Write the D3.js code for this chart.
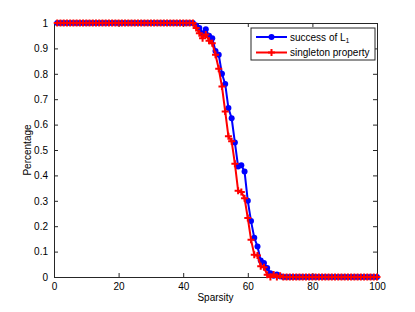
<!DOCTYPE html>
<html>
<head>
<meta charset="utf-8">
<script src="https://cdn.jsdelivr.net/npm/d3@7/dist/d3.min.js"></script>
<style>
  html, body { margin: 0; padding: 0; background: #fff; }
  svg { display: block; font-family: "Liberation Sans", Arial, Helvetica, sans-serif; }
</style>
</head>
<body>
<svg id="chart" width="415" height="312"></svg>
<script>
// ---- data ----
const sparsity = [1,2,3,4,5,6,7,8,9,10,11,12,13,14,15,16,17,18,19,20,
  21,22,23,24,25,26,27,28,29,30,31,32,33,34,35,36,37,38,39,40,
  41,42,43,44,45,46,47,48,49,50,51,52,53,54,55,56,57,58,59,60,
  61,62,63,64,65,66,67,68,69,70,71,72,73,74,75,76,77,78,79,80,
  81,82,83,84,85,86,87,88,89,90,91,92,93,94,95,96,97,98,99,100];

const successL1 = [1,1,1,1,1,1,1,1,1,1,1,1,1,1,1,1,1,1,1,1,
  1,1,1,1,1,1,1,1,1,1,1,1,1,1,1,1,1,1,1,1,
  1,1,1,0.99,0.98,0.96,0.975,0.95,0.94,0.89,0.875,0.80,0.76,0.665,0.625,0.53,0.435,0.44,0.415,0.30,
  0.22,0.155,0.12,0.065,0.055,0.035,0.015,0.005,0.01,0.003,0,0,0,0,0,0,0,0,0,0,
  0,0,0,0,0,0,0,0,0,0,0,0,0,0,0,0,0,0,0,0];

const singleton = [1,1,1,1,1,1,1,1,1,1,1,1,1,1,1,1,1,1,1,1,
  1,1,1,1,1,1,1,1,1,1,1,1,1,1,1,1,1,1,1,1,
  1,1,1,0.98,0.96,0.94,0.955,0.93,0.92,0.875,0.82,0.75,0.652,0.554,0.534,0.446,0.34,0.335,0.31,0.232,
  0.147,0.088,0.085,0.042,0.038,0.009,0,0.01,0,0.005,0,0,0,0,0,0,0,0,0,0,
  0,0,0,0,0,0,0,0,0,0,0,0,0,0,0,0,0,0,0,0];

const xTicks = [0,20,40,60,80,100];
const yTicks = [0,0.1,0.2,0.3,0.4,0.5,0.6,0.7,0.8,0.9,1];
const seriesNames = ["success of L", "singleton property"];
const xLabel = "Sparsity";
const yLabel = "Percentage";

// ---- layout ----
const L = 54, R = 377, T = 23, B = 277;
const svg = d3.select("#chart");
const x = d3.scaleLinear().domain([0,100]).range([L,R]);
const y = d3.scaleLinear().domain([0,1]).range([B,T]);
const axisColor = "#262626";
const blue = "#0000ff", red = "#ff0000";

// frame
svg.append("rect").attr("x",L).attr("y",T).attr("width",R-L).attr("height",B-T)
  .attr("fill","#fff").attr("stroke","none");

// axes with inward ticks
const fmtY = d => d === 0 ? "0" : d === 1 ? "1" : d3.format(".1f")(d);
const gx = svg.append("g").attr("transform",`translate(0,${B})`)
  .call(d3.axisBottom(x).tickValues(xTicks).tickSizeInner(-4).tickSizeOuter(0).tickPadding(7));
const gy = svg.append("g").attr("transform",`translate(${L},0)`)
  .call(d3.axisLeft(y).tickValues(yTicks).tickFormat(fmtY).tickSizeInner(-4).tickSizeOuter(0).tickPadding(6));
const gxt = svg.append("g").attr("transform",`translate(0,${T})`)
  .call(d3.axisTop(x).tickValues(xTicks).tickFormat("").tickSizeInner(-4).tickSizeOuter(0));
const gyr = svg.append("g").attr("transform",`translate(${R},0)`)
  .call(d3.axisRight(y).tickValues(yTicks).tickFormat("").tickSizeInner(-4).tickSizeOuter(0));
[gx,gy,gxt,gyr].forEach(g => {
  g.selectAll(".domain").attr("stroke",axisColor).attr("stroke-width",1);
  g.selectAll(".tick line").attr("stroke",axisColor);
  g.selectAll("text").attr("fill","#000").style("font-size","10px")
    .style("font-family","'Liberation Sans', Arial, sans-serif");
});
gx.selectAll("text").attr("dy","0.6em");

// series
const pts = (vals) => sparsity.map((s,i) => [s, vals[i]]);
const line = d3.line().x(d => x(d[0])).y(d => y(d[1]));

const gb = svg.append("g");
gb.append("path").datum(pts(successL1)).attr("d",line)
  .attr("fill","none").attr("stroke",blue).attr("stroke-width",2).attr("stroke-linejoin","round");
gb.selectAll("circle").data(pts(successL1)).join("circle")
  .attr("cx",d => x(d[0])).attr("cy",d => y(d[1])).attr("r",3).attr("fill",blue);

const gr = svg.append("g");
gr.append("path").datum(pts(singleton)).attr("d",line)
  .attr("fill","none").attr("stroke",red).attr("stroke-width",2).attr("stroke-linejoin","round");
const plus = 3.5;
gr.selectAll("path.plus").data(pts(singleton)).join("path").attr("class","plus")
  .attr("d",d => { const cx = x(d[0]), cy = y(d[1]);
    return `M${cx-plus},${cy}H${cx+plus}M${cx},${cy-plus}V${cy+plus}`; })
  .attr("stroke",red).attr("stroke-width",2).attr("fill","none");

// axis labels
svg.append("text").attr("x",(L+R)/2).attr("y",301).attr("text-anchor","middle")
  .style("font-size","10px").text(xLabel);
svg.append("text").attr("transform",`translate(31,${(T+B)/2}) rotate(-90)`)
  .attr("text-anchor","middle").style("font-size","10px").text(yLabel);

// legend
const lg = svg.append("g");
lg.append("rect").attr("x",251).attr("y",28).attr("width",124).attr("height",32)
  .attr("fill","#fff").attr("stroke",axisColor).attr("stroke-width",1);
const rows = [{c:blue, name:seriesNames[0], y:37, type:"circle"},
              {c:red, name:seriesNames[1], y:52.5, type:"plus"}];
rows.forEach((r,i) => {
  lg.append("line").attr("x1",256).attr("x2",287).attr("y1",r.y).attr("y2",r.y)
    .attr("stroke",r.c).attr("stroke-width",2);
  if (r.type === "circle") {
    lg.append("circle").attr("cx",271.5).attr("cy",r.y).attr("r",3).attr("fill",r.c);
  } else {
    lg.append("path").attr("d",`M${271.5-plus},${r.y}H${271.5+plus}M271.5,${r.y-plus}V${r.y+plus}`)
      .attr("stroke",r.c).attr("stroke-width",2);
  }
  const t = lg.append("text").attr("x",290).attr("y",r.y).attr("dy","0.35em")
    .style("font-size","10px").text(r.name);
  if (i === 0) {
    t.append("tspan").attr("dy","0.35em").style("font-size","7px").text("1");
  }
});
</script>
</body>
</html>
